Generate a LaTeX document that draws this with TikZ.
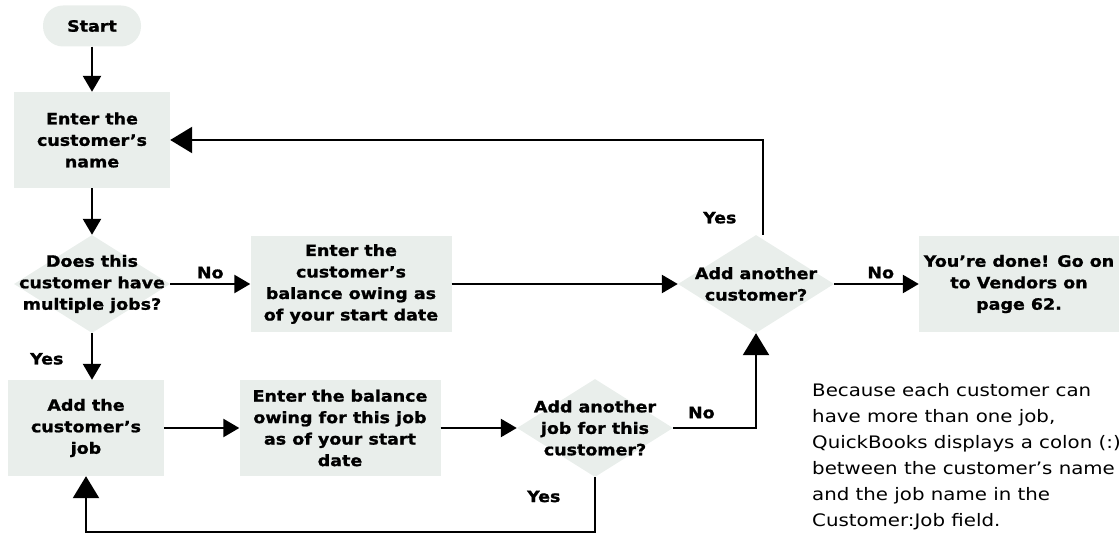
\documentclass[tikz,border=0pt]{standalone}
\usepackage{fontspec}
\setmainfont{DejaVu Sans}
\newfontfamily\chartfont[FakeStretch=1.15]{DejaVu Sans}
\newfontfamily\chartbold[FakeStretch=1.12, FakeBold=1.2]{DejaVu Sans Bold}
\usepackage{xcolor}
\usetikzlibrary{arrows.meta,shapes.geometric}
\definecolor{boxfill}{RGB}{233,238,235}

\begin{document}
\begin{tikzpicture}[
  x=1pt, y=-1pt,
  every node/.style={font=\chartbold\fontsize{15.6}{21.5}\selectfont},
  box/.style={fill=boxfill, align=center, minimum width=156pt, minimum height=96pt, inner sep=2pt},
  widebox/.style={box, minimum width=201pt},
  startbox/.style={fill=boxfill, rounded corners=20pt, minimum width=98pt, minimum height=41pt},
  decision/.style={diamond, fill=boxfill, minimum width=156pt, minimum height=98pt, inner sep=0pt},
  dtext/.style={align=center, inner sep=0pt},
  note/.style={font=\chartfont\fontsize{17.2}{26}\selectfont, align=left, inner sep=0pt},
  flow/.style={-{Triangle[length=16pt, width=18pt]}, line width=2.5pt},
  bigflow/.style={-{Triangle[length=22pt, width=26pt]}, line width=2.5pt}
]
\useasboundingbox (0,0) rectangle (1119,537);

\node[startbox] (start) at (92,26) {Start};
\node[box] (name) at (92,140) {Enter the\\ customer’s\\ name};
\node[decision, label={[dtext]center:{Does this\\ customer have\\ multiple jobs?}}] (q1) at (92,284) {};
\node[widebox] (balance) at (351,284) {Enter the\\ customer’s\\ balance owing as\\ of your start date};
\node[decision, label={[dtext]center:{Add another\\ customer?}}] (q3) at (756,284) {};
\node[box, minimum width=200pt] (done) at (1019,284) {You’re done! Go on\\ to Vendors on\\ page 62.};

\node[box] (addjob) at (86,428) {Add the\\ customer’s\\ job};
\node[widebox] (jobbal) at (340,428) {Enter the balance\\ owing for this job\\ as of your start\\ date};
\node[decision, label={[dtext]center:{Add another\\ job for this\\ customer?}}] (q2) at (595,428) {};

\node[note, anchor=west] (remark) at (812,457) {Because each customer can\\ have more than one job,\\ QuickBooks displays a colon (:)\\ between the customer’s name\\ and the job name in the\\ Customer:Job field.};

\draw[flow] (start) -- (name);
\draw[flow] (name) -- (q1);
\draw[flow] (q1) -- node[above=1pt]{No} (balance);
\draw[flow] (q1.south) -- node[left=24pt, pos=0.55]{Yes} (q1.south |- addjob.north);
\draw[flow] (balance) -- (q3);
\draw[flow] (q3) -- node[above=1pt, pos=0.55]{No} (done);
\draw[bigflow] ([xshift=7pt]q3.north) |- node[left=22pt, pos=0.09]{Yes} (name.east);
\draw[flow] (addjob) -- (jobbal);
\draw[flow] (jobbal) -- (q2);
\draw[bigflow] (q2.east) -| node[above=5pt, pos=0.17]{No} (q3.south);
\draw[bigflow] (q2.south) -- node[left=30pt, pos=0.35]{Yes} ++(0,55) -| (addjob.south);
\end{tikzpicture}
\end{document}
